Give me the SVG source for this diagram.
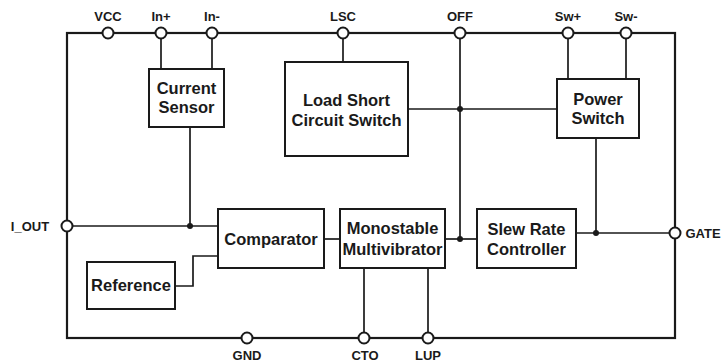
<svg xmlns="http://www.w3.org/2000/svg" width="724" height="364" viewBox="0 0 724 364">
<style>
.box{fill:#fff;stroke:#1a1a1a;stroke-width:2}
.frame{fill:none;stroke:#1a1a1a;stroke-width:2.2}
.w{fill:none;stroke:#1a1a1a;stroke-width:1.7}
.pin{fill:#fff;stroke:#1a1a1a;stroke-width:2}
.dot{fill:#1a1a1a}
.t{font-family:"Liberation Sans",Arial,sans-serif;font-weight:bold;font-size:16.5px;fill:#1a1a1a;text-anchor:middle}
.p{font-family:"Liberation Sans",Arial,sans-serif;font-weight:bold;font-size:13px;fill:#1a1a1a;text-anchor:middle}
</style>
<rect width="724" height="364" fill="#fff"/>
<g id="connectors">
<rect class="frame" x="67" y="33" width="608" height="305"/>
<path class="w" d="M161 33V69M212 33V69"/>
<path class="w" d="M190 127V226"/>
<path class="w" d="M343 33V62"/>
<path class="w" d="M460 33V239"/>
<path class="w" d="M408 109H557"/>
<path class="w" d="M568 33V79M626 33V79"/>
<path class="w" d="M596 138V233"/>
<path class="w" d="M67 226H218"/>
<path class="w" d="M175 286H193V256H218" stroke-width="2.2"/>
<path class="w" d="M324 239H340"/>
<path class="w" d="M445 239H477"/>
<path class="w" d="M576 233H675"/>
<path class="w" d="M364 268V338M428 268V338"/>
<circle class="dot" cx="190" cy="226" r="3"/>
<circle class="dot" cx="460" cy="109" r="3"/>
<circle class="dot" cx="460" cy="239" r="3"/>
<circle class="dot" cx="596" cy="233" r="3"/>
</g>
<g id="pins">
<g id="pin-vcc"><circle class="pin" cx="108" cy="33" r="5.5"/><text class="p" x="108" y="21">VCC</text></g>
<g id="pin-inp"><circle class="pin" cx="161" cy="33" r="5.5"/><text class="p" x="161" y="21">In+</text></g>
<g id="pin-inm"><circle class="pin" cx="212" cy="33" r="5.5"/><text class="p" x="212" y="21">In-</text></g>
<g id="pin-lsc"><circle class="pin" cx="343" cy="33" r="5.5"/><text class="p" x="343" y="21">LSC</text></g>
<g id="pin-off"><circle class="pin" cx="460" cy="33" r="5.5"/><text class="p" x="460" y="21">OFF</text></g>
<g id="pin-swp"><circle class="pin" cx="568" cy="33" r="5.5"/><text class="p" x="568" y="21">Sw+</text></g>
<g id="pin-swm"><circle class="pin" cx="626" cy="33" r="5.5"/><text class="p" x="626" y="21">Sw-</text></g>
<g id="pin-iout"><circle class="pin" cx="67" cy="226" r="5.5"/><text class="p" x="30" y="231">I_OUT</text></g>
<g id="pin-gate"><circle class="pin" cx="675" cy="233" r="5.5"/><text class="p" x="703" y="238">GATE</text></g>
<g id="pin-gnd"><circle class="pin" cx="247" cy="338" r="5.5"/><text class="p" x="247" y="360">GND</text></g>
<g id="pin-cto"><circle class="pin" cx="364" cy="338" r="5.5"/><text class="p" x="365" y="360">CTO</text></g>
<g id="pin-lup"><circle class="pin" cx="428" cy="338" r="5.5"/><text class="p" x="428" y="360">LUP</text></g>
</g>
<g id="current-sensor"><rect class="box" x="149" y="69" width="75" height="58"/><text class="t" x="186.5" y="94">Current</text><text class="t" x="186.5" y="113">Sensor</text></g>
<g id="load-short"><rect class="box" x="285" y="62" width="123" height="94"/><text class="t" x="346.5" y="106">Load Short</text><text class="t" x="346.5" y="126">Circuit Switch</text></g>
<g id="power-switch"><rect class="box" x="557" y="79" width="82" height="59"/><text class="t" x="598" y="105">Power</text><text class="t" x="598" y="124">Switch</text></g>
<g id="comparator"><rect class="box" x="218" y="209" width="106" height="59"/><text class="t" x="271" y="245">Comparator</text></g>
<g id="reference"><rect class="box" x="87" y="262" width="88" height="47"/><text class="t" x="131" y="291">Reference</text></g>
<g id="monostable"><rect class="box" x="340" y="209" width="105" height="59"/><text class="t" x="392.5" y="234">Monostable</text><text class="t" x="392.5" y="255">Multivibrator</text></g>
<g id="slew-rate"><rect class="box" x="477" y="209" width="99" height="59"/><text class="t" x="526.5" y="235">Slew Rate</text><text class="t" x="526.5" y="255">Controller</text></g>
</svg>
